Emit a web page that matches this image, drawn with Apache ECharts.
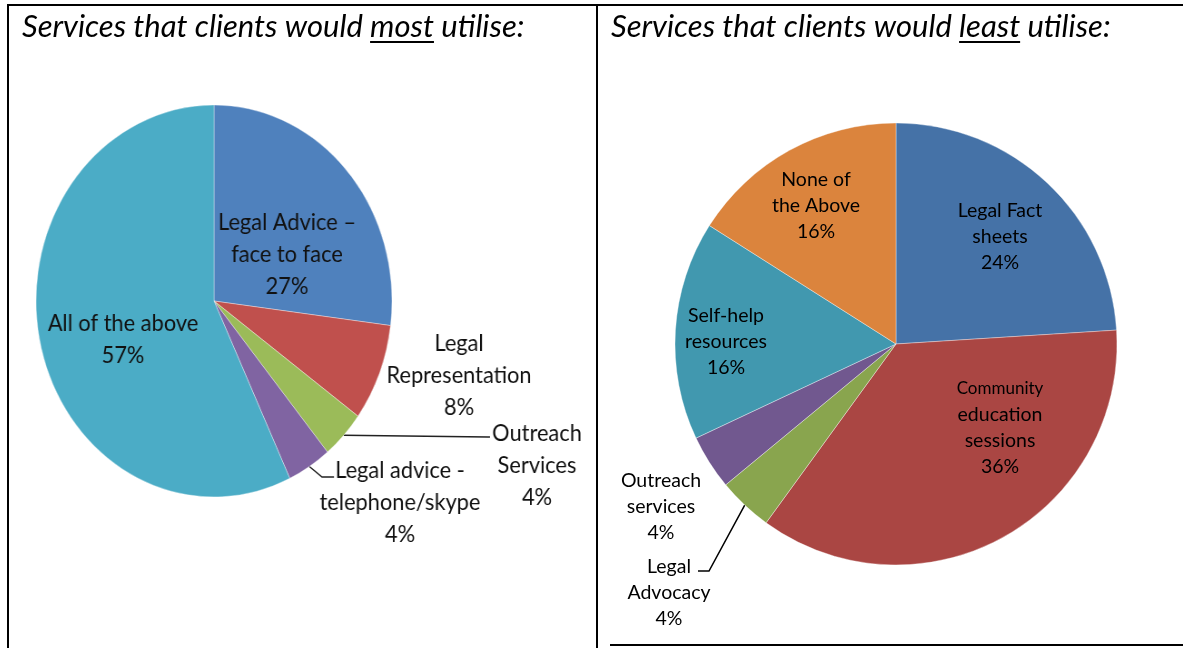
<!DOCTYPE html>
<html>
<head>
<meta charset="utf-8">
<script src="https://cdn.jsdelivr.net/npm/echarts@6/dist/echarts.min.js"></script>
<style>
  html, body { margin: 0; padding: 0; background: #fff; width: 1183px; height: 648px; overflow: hidden; }
  #main { position: absolute; left: 0; top: 0; width: 1183px; height: 648px; }
  /* the left pie is drawn slightly narrower than tall */
  #most { position: absolute; left: 0; top: 0; width: 680px; height: 648px;
          transform: scaleX(0.908); transform-origin: 214px 301px; }
</style>
</head>
<body>
<div id="main"></div>
<div id="most"></div>
<script>
// ---- data ----
const mostNames  = ['Legal Advice –\nface to face', 'Legal\nRepresentation', 'Outreach\nServices', 'Legal advice -\ntelephone/skype', 'All of the above'];
const mostValues = [27, 8, 4, 4, 57];

const leastNames  = ['Legal Fact\nsheets', 'Community\neducation\nsessions', 'Legal\nAdvocacy', 'Outreach\nservices', 'Self-help\nresources', 'None of\nthe Above'];
const leastValues = [24, 36, 4, 4, 16, 16];

const titleMost  = ['Services that clients would ', 'most', ' utilise:'];
const titleLeast = ['Services that clients would ', 'least', ' utilise:'];

// ---- styling / layout ----
const mostColors  = ['#4F81BD', '#C0504D', '#9BBB59', '#8064A2', '#4BACC6'];
const leastColors = ['#4572A7', '#AA4643', '#89A54E', '#71588F', '#4198AF', '#DB843D'];

const SQUEEZE = 0.908;
const MOST_CX = 214, MOST_CY = 301, MOST_R = 196;
const LEAST_CX = 896, LEAST_CY = 344, LEAST_R = 221;
const unsq = x => MOST_CX + (x - MOST_CX) / SQUEEZE;

// label block centres (screen coordinates)
const mostLabelPos  = [[287, 254], [459, 375], [537, 465], [400, 502], [123, 339]];
const mostInside    = [true, false, false, false, true];
const mostLeader    = [null, null, [[488, 437], [490, 437]], [[322, 477], [334, 477]], null];

const leastLabelPos = [[1000, 237], [1000, 428], [669, 593], [661, 507], [726, 342], [816, 206]];
const leastInside   = [true, true, false, false, true, true];
const leastLeader   = [null, null, [[709, 571], [698, 571]], null, null, null];

const FONT = 'Lato, "Open Sans", sans-serif';

function textWidth(str, font) {
  const c = document.createElement('canvas').getContext('2d');
  c.font = font;
  return c.measureText(str).width;
}

// ---- titles and table rules ----
const TITLE_FONT = 'italic 31px ' + FONT;
function titleGraphics(parts, x, y) {
  const w0 = textWidth(parts[0], TITLE_FONT);
  const w1 = textWidth(parts[1], TITLE_FONT);
  return [
    { type: 'text', style: { text: parts.join(''), x: x, y: y, font: TITLE_FONT, fill: '#000', verticalAlign: 'middle' } },
    { type: 'line', shape: { x1: x + w0, y1: y + 15, x2: x + w0 + w1, y2: y + 15 }, style: { stroke: '#000', lineWidth: 2 } }
  ];
}

const rule = (x1, y1, x2, y2) => ({ type: 'line', shape: { x1, y1, x2, y2 }, style: { stroke: '#000', lineWidth: 2 } });

const mainChart = echarts.init(document.getElementById('main'), null, { renderer: 'canvas' });
mainChart.setOption({
  backgroundColor: '#fff',
  animation: false,
  graphic: [
    rule(7, 5, 1183, 5),
    rule(8, 4, 8, 648),
    rule(597, 4, 597, 648),
    rule(610, 645, 1183, 645),
    ...titleGraphics(titleMost, 22, 27),
    ...titleGraphics(titleLeast, 611, 27)
  ],
  series: [{
    type: 'pie',
    center: [LEAST_CX, LEAST_CY],
    radius: LEAST_R,
    startAngle: 90,
    clockwise: true,
    avoidLabelOverlap: false,
    itemStyle: { borderColor: 'rgba(255,255,255,0.6)', borderWidth: 0.6 },
    label: {
      show: true,
      color: '#000',
      fontFamily: FONT,
      fontSize: 19.5,
      lineHeight: 26,
      align: 'center',
      formatter: p => {
        const lines = leastNames[p.dataIndex].split('\n');
        if (p.dataIndex === 1) lines[0] = '{s|' + lines[0] + '}';
        return lines.join('\n') + '\n' + leastValues[p.dataIndex] + '%';
      },
      rich: { s: { fontFamily: FONT, fontSize: 17, lineHeight: 25, color: '#000' } }
    },
    labelLine: { show: true, length: 5, length2: 5, lineStyle: { color: '#000', width: 1.5 } },
    labelLayout: p => {
      const i = p.dataIndex;
      const out = { x: leastLabelPos[i][0], y: leastLabelPos[i][1], align: 'center', verticalAlign: 'middle' };
      if (leastLeader[i] && p.labelLinePoints) {
        out.labelLinePoints = [p.labelLinePoints[0], leastLeader[i][0], leastLeader[i][1]];
      }
      return out;
    },
    data: leastValues.map((v, i) => ({
      value: v,
      name: leastNames[i],
      itemStyle: { color: leastColors[i] },
      label: { position: leastInside[i] ? 'inside' : 'outside' },
      labelLine: { show: !!leastLeader[i] }
    }))
  }]
});

const mostChart = echarts.init(document.getElementById('most'), null, { renderer: 'canvas' });
mostChart.setOption({
  animation: false,
  series: [{
    type: 'pie',
    center: [MOST_CX, MOST_CY],
    radius: MOST_R,
    startAngle: 90,
    clockwise: true,
    avoidLabelOverlap: false,
    itemStyle: { borderColor: 'rgba(255,255,255,0.6)', borderWidth: 0.6 },
    label: {
      show: true,
      color: '#111',
      fontFamily: FONT,
      fontSize: 24,
      lineHeight: 32,
      align: 'center',
      formatter: p => mostNames[p.dataIndex] + '\n' + mostValues[p.dataIndex] + '%'
    },
    labelLine: { show: true, length: 5, length2: 5, lineStyle: { color: '#222', width: 1.5 } },
    labelLayout: p => {
      const i = p.dataIndex;
      const out = { x: unsq(mostLabelPos[i][0]), y: mostLabelPos[i][1], align: 'center', verticalAlign: 'middle' };
      if (mostLeader[i] && p.labelLinePoints) {
        out.labelLinePoints = [p.labelLinePoints[0],
          [unsq(mostLeader[i][0][0]), mostLeader[i][0][1]],
          [unsq(mostLeader[i][1][0]), mostLeader[i][1][1]]];
      }
      return out;
    },
    data: mostValues.map((v, i) => ({
      value: v,
      name: mostNames[i],
      itemStyle: { color: mostColors[i] },
      label: { position: mostInside[i] ? 'inside' : 'outside' },
      labelLine: { show: !!mostLeader[i] }
    }))
  }]
});
</script>
</body>
</html>
